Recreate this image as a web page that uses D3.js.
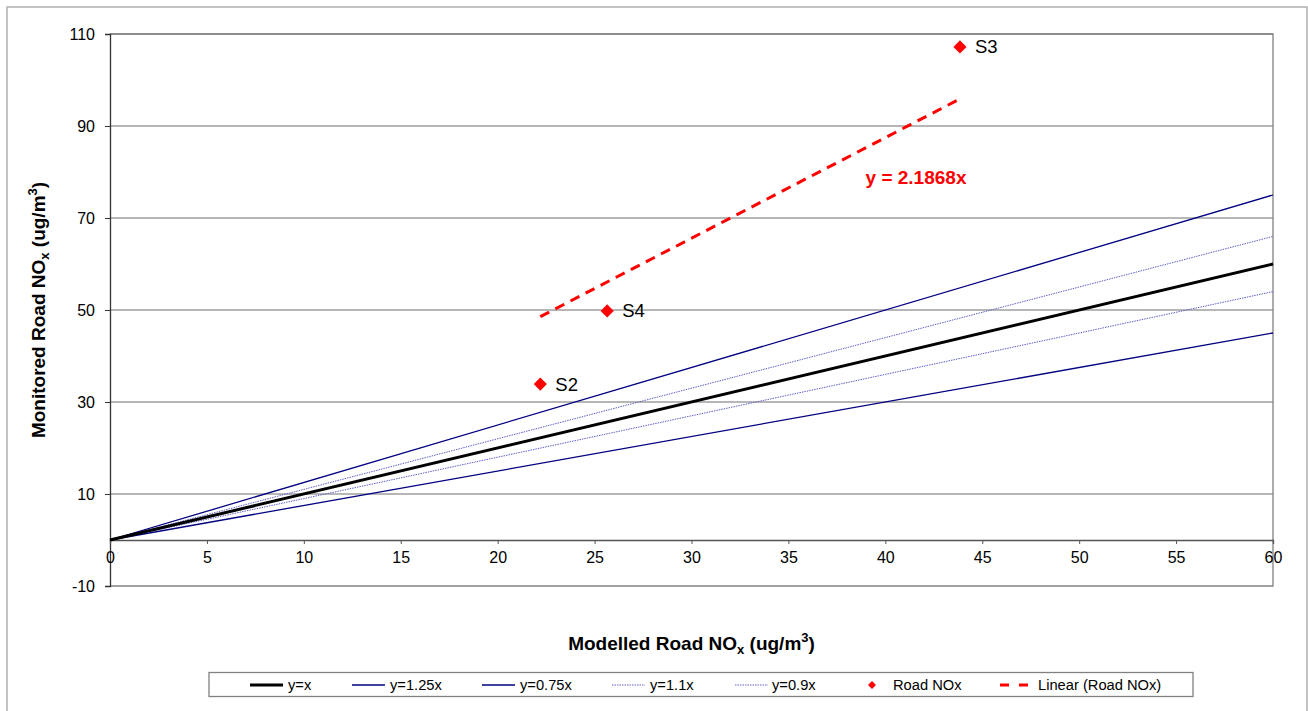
<!DOCTYPE html>
<html><head><meta charset="utf-8">
<script src="https://cdn.jsdelivr.net/npm/d3@7"></script>
<style>body{margin:0;background:#fff}svg{display:block}text{font-family:"Liberation Sans",Arial,sans-serif}</style>
</head><body><svg id="c" width="1308" height="711"></svg>
<script>
// Data
const xDomain = [0, 60];
const yDomain = [-10, 110];
const xTicks = [0, 5, 10, 15, 20, 25, 30, 35, 40, 45, 50, 55, 60];
const yTicks = [-10, 10, 30, 50, 70, 90, 110];
const refSlopes = [1, 1.25, 0.75, 1.1, 0.9];
const refNames = ["y=x", "y=1.25x", "y=0.75x", "y=1.1x", "y=0.9x"];
const siteNames = ["S2", "S4", "S3"];
const modelled = [22.2, 25.65, 43.85];
const monitored = [33.9, 49.8, 107.2];
const trendSlope = 2.1868;
const trendLabel = "y = 2.1868x";

const svg = d3.select("#c");
const L = 110, R = 1273, T = 34, B = 586;
const x = d3.scaleLinear().domain(xDomain).range([L, R]);
const y = d3.scaleLinear().domain(yDomain).range([B, T]);
const fmt = d => String(d);

// outer frame
svg.append("rect").attr("x", 7).attr("y", 7).attr("width", 1300).attr("height", 720)
  .attr("fill", "none").attr("stroke", "#b0b0b0").attr("stroke-width", 1.5);

// gridlines
svg.append("g").selectAll("line").data(yTicks.filter(d => d > -10)).join("line")
  .attr("x1", L).attr("x2", R).attr("y1", d => y(d)).attr("y2", d => y(d))
  .attr("stroke", "#6e6e6e").attr("stroke-width", 1);

// plot border right/bottom
svg.append("path").attr("d", `M${L},${T}H${R}V${B}H${L}`).attr("fill", "none")
  .attr("stroke", "#808080").attr("stroke-width", 1.3);

// y axis
const yAxis = d3.axisLeft(y).tickValues(yTicks).tickFormat(fmt).tickSize(5).tickPadding(10);
const gy = svg.append("g").attr("transform", `translate(${L},0)`).call(yAxis);
gy.select(".domain").attr("stroke", "#333").attr("stroke-width", 1.3);
gy.selectAll(".tick line").attr("stroke", "#333");
gy.selectAll("text").attr("font-size", 16).attr("fill", "#000");

// x axis at y=0
const xAxis = d3.axisBottom(x).tickValues(xTicks).tickFormat(fmt).tickSize(4).tickPadding(8);
const gx = svg.append("g").attr("transform", `translate(0,${y(0)})`).call(xAxis);
gx.select(".domain").attr("stroke", "#555").attr("stroke-width", 1.3);
gx.selectAll(".tick line").attr("stroke", "#555");
gx.selectAll("text").attr("font-size", 16).attr("fill", "#000");

// reference lines
const styles = [
  {stroke: "#000", w: 3, dash: null},
  {stroke: "#000080", w: 1.3, dash: null},
  {stroke: "#000080", w: 1.3, dash: null},
  {stroke: "#6060c8", w: 1, dash: "1.5,1"},
  {stroke: "#6060c8", w: 1, dash: "1.5,1"}
];
const order = [3, 4, 1, 2, 0];
order.forEach(i => {
  const k = refSlopes[i];
  svg.append("line").attr("x1", x(0)).attr("y1", y(0)).attr("x2", x(60)).attr("y2", y(60 * k))
    .attr("stroke", styles[i].stroke).attr("stroke-width", styles[i].w)
    .attr("stroke-dasharray", styles[i].dash);
});

// trendline
const x0 = d3.min(modelled), x1 = d3.max(modelled);
svg.append("line").attr("x1", x(x0)).attr("y1", y(trendSlope * x0)).attr("x2", x(x1)).attr("y2", y(trendSlope * x1))
  .attr("stroke", "#ff0000").attr("stroke-width", 3).attr("stroke-dasharray", "10,7");
svg.append("text").attr("x", 916).attr("y", 184).attr("text-anchor", "middle")
  .attr("font-size", 19).attr("font-weight", "bold").attr("fill", "#ff0000").text(trendLabel);

// points
const diamond = d3.symbol().type(d3.symbolDiamond2).size(110);
modelled.forEach((m, i) => {
  svg.append("path").attr("d", diamond()).attr("transform", `translate(${x(m)},${y(monitored[i])})`).attr("fill", "#ff0000");
  svg.append("text").attr("x", x(m) + 15).attr("y", y(monitored[i]) + 6.5).attr("font-size", 18.5).attr("fill", "#000").text(siteNames[i]);
});

// axis titles
const xt = svg.append("text").attr("x", (L + R) / 2).attr("y", 650).attr("text-anchor", "middle")
  .attr("font-size", 19).attr("font-weight", "bold");
xt.append("tspan").text("Modelled Road NO");
xt.append("tspan").attr("font-size", 13).attr("dy", 4).text("x");
xt.append("tspan").attr("dy", -4).text(" (ug/m");
xt.append("tspan").attr("font-size", 13).attr("dy", -8).text("3");
xt.append("tspan").attr("dy", 8).text(")");

const yt = svg.append("text").attr("transform", `translate(45,${(T + B) / 2}) rotate(-90)`).attr("text-anchor", "middle")
  .attr("font-size", 19).attr("font-weight", "bold");
yt.append("tspan").text("Monitored Road NO");
yt.append("tspan").attr("font-size", 13).attr("dy", 4).text("x");
yt.append("tspan").attr("dy", -4).text(" (ug/m");
yt.append("tspan").attr("font-size", 13).attr("dy", -8).text("3");
yt.append("tspan").attr("dy", 8).text(")");

// legend
svg.append("rect").attr("x", 209).attr("y", 672.5).attr("width", 984).attr("height", 24)
  .attr("fill", "#fff").attr("stroke", "#808080").attr("stroke-width", 1.3);
const ly = 685;
const legendItems = [
  {type: "line", s: styles[0], x: 250, tx: 288, label: refNames[0]},
  {type: "line", s: styles[1], x: 352, tx: 390, label: refNames[1]},
  {type: "line", s: styles[2], x: 482, tx: 520, label: refNames[2]},
  {type: "line", s: styles[3], x: 612, tx: 650, label: refNames[3]},
  {type: "line", s: styles[4], x: 735, tx: 772, label: refNames[4]},
  {type: "pt", x: 872, tx: 893, label: "Road NOx"},
  {type: "trend", x: 1000, tx: 1038, label: "Linear (Road NOx)"}
];
legendItems.forEach(it => {
  if (it.type === "line") {
    svg.append("line").attr("x1", it.x).attr("x2", it.x + 33).attr("y1", ly).attr("y2", ly)
      .attr("stroke", it.s.stroke).attr("stroke-width", it.s.w).attr("stroke-dasharray", it.s.dash);
  } else if (it.type === "pt") {
    svg.append("path").attr("d", d3.symbol().type(d3.symbolDiamond2).size(40)()).attr("transform", `translate(${it.x},${ly})`).attr("fill", "#ff0000");
  } else {
    svg.append("line").attr("x1", it.x).attr("x2", it.x + 28).attr("y1", ly).attr("y2", ly)
      .attr("stroke", "#ff0000").attr("stroke-width", 3).attr("stroke-dasharray", "9,10");
  }
  svg.append("text").attr("x", it.tx).attr("y", ly + 5).attr("font-size", 14.7).text(it.label);
});
</script></body></html>
